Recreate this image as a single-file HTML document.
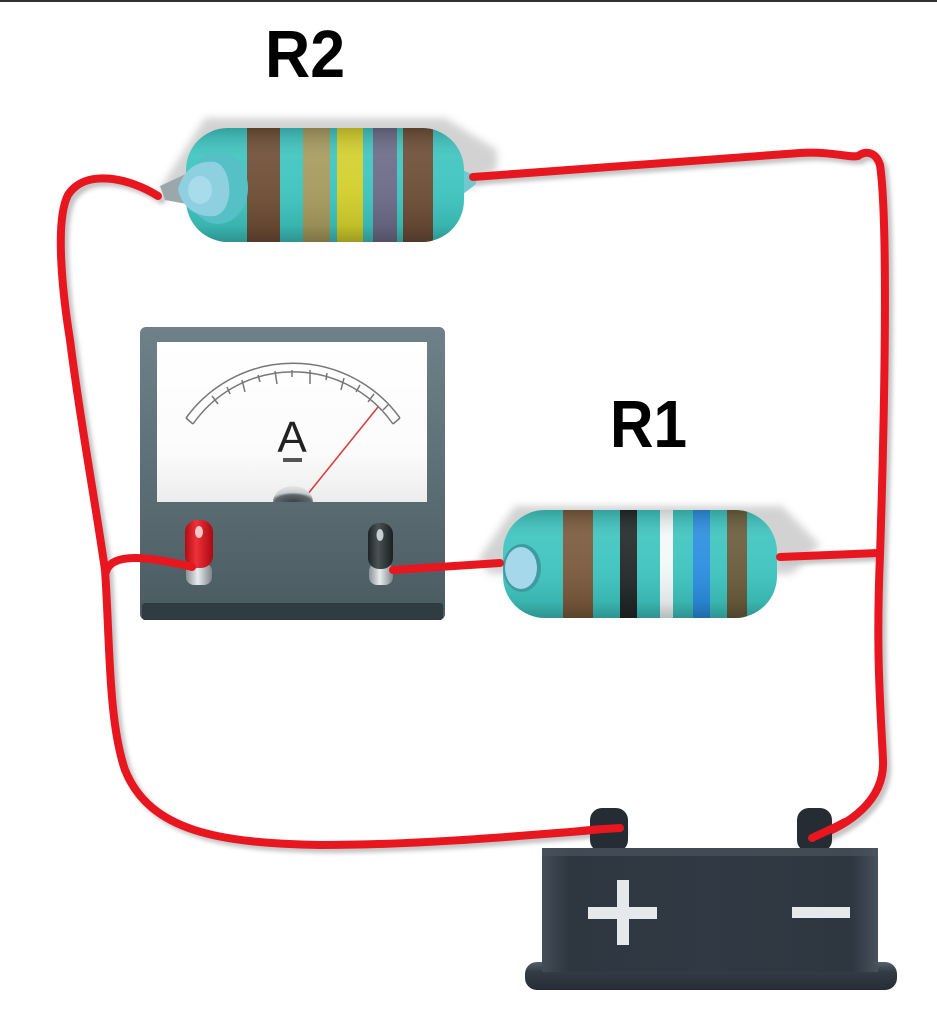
<!DOCTYPE html>
<html>
<head>
<meta charset="utf-8">
<style>
html,body{margin:0;padding:0;background:#fff;}
svg{display:block;}
</style>
</head>
<body>
<svg width="937" height="1036" viewBox="0 0 937 1036" xmlns="http://www.w3.org/2000/svg">
<defs>
  <filter id="blur4" x="-20%" y="-20%" width="140%" height="140%"><feGaussianBlur stdDeviation="4"/></filter>
  <filter id="blur2" x="-20%" y="-20%" width="140%" height="140%"><feGaussianBlur stdDeviation="2"/></filter>
  <linearGradient id="bodyShade" x1="0" y1="0" x2="0" y2="1">
    <stop offset="0" stop-color="#000" stop-opacity="0.18"/>
    <stop offset="0.25" stop-color="#fff" stop-opacity="0.08"/>
    <stop offset="0.5" stop-color="#fff" stop-opacity="0.05"/>
    <stop offset="0.85" stop-color="#000" stop-opacity="0.08"/>
    <stop offset="1" stop-color="#000" stop-opacity="0.25"/>
  </linearGradient>
  <linearGradient id="caseG" x1="0" y1="0" x2="0" y2="1">
    <stop offset="0" stop-color="#6e8188"/>
    <stop offset="0.5" stop-color="#5d6f76"/>
    <stop offset="1" stop-color="#4a5a60"/>
  </linearGradient>
  <linearGradient id="faceG" x1="0" y1="0" x2="0" y2="1">
    <stop offset="0" stop-color="#ffffff"/>
    <stop offset="0.7" stop-color="#fbfbfb"/>
    <stop offset="1" stop-color="#ececec"/>
  </linearGradient>
  <linearGradient id="batG" x1="0" y1="0" x2="1" y2="0">
    <stop offset="0" stop-color="#434c57"/>
    <stop offset="0.08" stop-color="#2e3640"/>
    <stop offset="0.5" stop-color="#313944"/>
    <stop offset="0.92" stop-color="#2e3640"/>
    <stop offset="1" stop-color="#48525c"/>
  </linearGradient>
  <linearGradient id="flangeG" x1="0" y1="0" x2="0" y2="1">
    <stop offset="0" stop-color="#56606a"/>
    <stop offset="0.35" stop-color="#333b45"/>
    <stop offset="1" stop-color="#262d35"/>
  </linearGradient>
  <linearGradient id="redT" x1="0" y1="0" x2="1" y2="0">
    <stop offset="0" stop-color="#b00c14"/>
    <stop offset="0.4" stop-color="#f0303a"/>
    <stop offset="1" stop-color="#a80a12"/>
  </linearGradient>
  <linearGradient id="blkT" x1="0" y1="0" x2="1" y2="0">
    <stop offset="0" stop-color="#1e2426"/>
    <stop offset="0.4" stop-color="#4a5356"/>
    <stop offset="1" stop-color="#1a1f21"/>
  </linearGradient>
  <linearGradient id="silverT" x1="0" y1="0" x2="1" y2="0">
    <stop offset="0" stop-color="#8a9396"/>
    <stop offset="0.45" stop-color="#e8ecee"/>
    <stop offset="1" stop-color="#7d8689"/>
  </linearGradient>
  <radialGradient id="pivotG" cx="0.5" cy="1" r="1">
    <stop offset="0" stop-color="#3a4245"/>
    <stop offset="0.45" stop-color="#5d666a"/>
    <stop offset="0.6" stop-color="#c8cccd"/>
    <stop offset="1" stop-color="#e6e8e8"/>
  </radialGradient>
  <clipPath id="r2clip"><rect x="186" y="128" width="278" height="114" rx="42"/></clipPath>
  <clipPath id="r1clip"><rect x="503" y="510" width="274" height="108" rx="42"/></clipPath>
</defs>

<!-- top dark bar -->
<rect x="0" y="0" width="937" height="2" fill="#333"/>

<!-- labels -->
<text x="265" y="77" font-family="Liberation Sans, Arial, sans-serif" font-weight="bold" font-size="67" textLength="80" lengthAdjust="spacingAndGlyphs" fill="#000">R2</text>
<text x="610" y="447" font-family="Liberation Sans, Arial, sans-serif" font-weight="bold" font-size="67" textLength="77" lengthAdjust="spacingAndGlyphs" fill="#000">R1</text>

<!-- wire shadows -->
<g fill="none" stroke="#7a7a7a" stroke-width="8" stroke-linecap="round" opacity="0.45" filter="url(#blur2)" transform="translate(4,4)">
  <path d="M158,196 C130,178 85,168 68,195 C55,220 62,290 70,340 C80,420 95,500 105,570 C110,640 108,720 125,770 C150,832 220,843 320,845 C420,845 520,836 620,828"/>
  <path d="M473,177 C600,168 720,158 800,153 C830,151 850,158 858,156 C866,150 876,152 880,165 C888,220 885,400 880,555 C876,650 880,700 883,760 C885,800 850,825 812,838"/>
  <path d="M780,557 L878,553"/>
</g>

<!-- R2 shadow parallelogram -->
<polygon points="158,192 205,118 445,118 497,150 497,170 470,188" fill="#c8c8c8" opacity="0.8" filter="url(#blur4)"/>
<!-- R2 leads -->
<polygon points="160,186 190,172 192,205 165,200" fill="#9aa8ac"/>
<polygon points="458,168 476,176 476,184 458,198" fill="#6fc9cf"/>
<!-- R2 body -->
<g clip-path="url(#r2clip)">
  <rect x="186" y="128" width="278" height="114" fill="#3ec4bf"/>
  <rect x="247" y="128" width="33" height="114" fill="#6e4e36"/>
  <rect x="303" y="128" width="27" height="114" fill="#a59a5e"/>
  <rect x="337" y="128" width="26" height="114" fill="#d3cf2c"/>
  <rect x="373" y="128" width="24" height="114" fill="#6c6b88"/>
  <rect x="403" y="128" width="30" height="114" fill="#6c4d36"/>
  <rect x="186" y="128" width="278" height="114" fill="url(#bodyShade)"/>
</g>
<ellipse cx="218" cy="188" rx="30" ry="36" fill="#55c0c6"/>
<path d="M178,190 C182,172 195,160 215,162 C232,166 236,210 215,216 C195,218 182,206 178,190 Z" fill="#8fd0e0"/>
<ellipse cx="200" cy="190" rx="12" ry="14" fill="#a8dcea"/>

<!-- R1 shadow parallelogram -->
<polygon points="478,560 515,506 782,506 820,545 792,574 490,574" fill="#c8c8c8" opacity="0.8" filter="url(#blur4)"/>
<!-- R1 body -->
<g clip-path="url(#r1clip)">
  <rect x="503" y="510" width="274" height="108" fill="#3ec4bf"/>
  <rect x="563" y="510" width="30" height="108" fill="#7a5a3c"/>
  <rect x="620" y="510" width="17" height="108" fill="#232828"/>
  <rect x="660" y="510" width="13" height="108" fill="#f2f8f8"/>
  <rect x="693" y="510" width="17" height="108" fill="#2b8ee0"/>
  <rect x="727" y="510" width="20" height="108" fill="#6a5c3c"/>
  <rect x="503" y="510" width="274" height="108" fill="url(#bodyShade)"/>
</g>
<ellipse cx="522" cy="568" rx="19" ry="24" fill="#3f9aa2"/>
<ellipse cx="521" cy="568" rx="16" ry="21" fill="#a4d8ea"/>

<!-- Ammeter -->
<rect x="140" y="327" width="305" height="293" rx="6" fill="url(#caseG)"/>
<rect x="142" y="603" width="301" height="17" rx="3" fill="#2f3d42"/>
<rect x="157" y="342" width="270" height="160" fill="url(#faceG)"/>
<!-- scale arc -->
<g fill="none" stroke="#777" stroke-width="1.5">
  <path d="M186,418 A132,132 0 0 1 400,418"/>
  <path d="M193,424 A122,122 0 0 1 393,424"/>
</g>
<g stroke="#777" stroke-width="1.5">
  <line x1="186" y1="418" x2="193" y2="424"/>
  <line x1="400" y1="418" x2="393" y2="424"/>
  <line x1="212" y1="396" x2="218" y2="404"/>
  <line x1="242" y1="380" x2="245" y2="392"/>
  <line x1="275" y1="371" x2="277" y2="384"/>
  <line x1="310" y1="370" x2="310" y2="384"/>
  <line x1="344" y1="378" x2="341" y2="390"/>
  <line x1="374" y1="394" x2="368" y2="402"/>
  <line x1="227" y1="387" x2="230" y2="394"/>
  <line x1="258" y1="375" x2="260" y2="382"/>
  <line x1="292" y1="370" x2="292" y2="377"/>
  <line x1="327" y1="373" x2="326" y2="380"/>
  <line x1="360" y1="385" x2="356" y2="392"/>
  <line x1="388" y1="405" x2="383" y2="410"/>
</g>
<text x="292" y="452" text-anchor="middle" font-family="Liberation Sans, Arial, sans-serif" font-size="44" fill="#222">A</text>
<rect x="283" y="458" width="19" height="4" fill="#555"/>
<line x1="303" y1="500" x2="378" y2="407" stroke="#d84040" stroke-width="1.6"/>
<path d="M273,502 A20,16 0 0 1 313,502 Z" fill="url(#pivotG)"/>

<!-- wires (red) -->
<g fill="none" stroke="#e8161e" stroke-width="8" stroke-linecap="round" stroke-linejoin="round">
  <path d="M158,196 C130,178 85,168 68,195 C55,220 62,290 70,340 C80,420 95,500 105,570 C110,640 108,720 125,770 C150,832 220,843 320,845 C420,845 520,836 620,828"/>
  <path d="M473,177 C600,168 720,158 800,153 C830,151 850,158 858,156 C866,150 876,152 880,165 C888,220 885,400 880,555 C876,650 880,700 883,760 C885,800 850,825 812,838"/>
  <path d="M780,557 L878,553"/>
</g>

<!-- red terminal -->
<rect x="186" y="563" width="26" height="22" rx="8" fill="url(#silverT)"/>
<rect x="185" y="520" width="28" height="48" rx="12" fill="url(#redT)"/>
<ellipse cx="199" cy="532" rx="4" ry="6" fill="#f4c8c8"/>
<!-- black terminal -->
<rect x="369" y="563" width="24" height="22" rx="8" fill="url(#silverT)"/>
<rect x="368" y="523" width="25" height="46" rx="11" fill="url(#blkT)"/>
<ellipse cx="380" cy="535" rx="3.5" ry="6" fill="#c8cfd0"/>

<!-- branch wires to ammeter -->
<path d="M150,572 L188,572" stroke="#8a1010" stroke-width="6" opacity="0.5" filter="url(#blur2)"/>
<g fill="none" stroke="#e8161e" stroke-width="8" stroke-linecap="round">
  <path d="M106,572 C110,556 135,553 192,567"/>
  <path d="M393,570 L500,563"/>
</g>

<!-- Battery -->
<rect x="590" y="808" width="38" height="44" rx="12" fill="#262c33"/>
<rect x="797" y="808" width="35" height="44" rx="12" fill="#262c33"/>
<rect x="525" y="962" width="372" height="28" rx="12" fill="url(#flangeG)"/>
<rect x="542" y="848" width="336" height="124" fill="url(#batG)"/>
<rect x="542" y="848" width="336" height="8" fill="#4a535d" opacity="0.7"/>
<rect x="588" y="907" width="69" height="12" fill="#e6e9eb"/>
<rect x="617" y="880" width="12" height="65" fill="#e6e9eb"/>
<rect x="792" y="907" width="58" height="11" fill="#e6e9eb"/>

<!-- wire ends on battery posts -->
<g fill="none" stroke="#e8161e" stroke-width="8" stroke-linecap="round">
  <path d="M580,831 C600,829 610,828.5 620,828"/>
  <path d="M845,822 C830,830 820,834 812,838"/>
</g>
</svg>
</body>
</html>
